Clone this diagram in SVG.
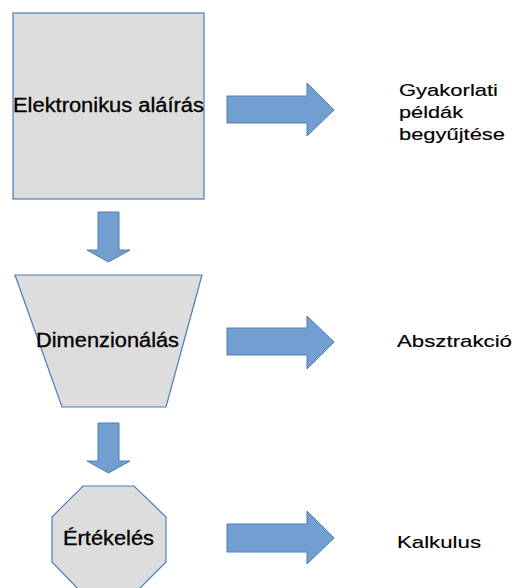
<svg xmlns="http://www.w3.org/2000/svg" width="516" height="588" viewBox="0 0 516 588">
  <style>
    .shape { fill: #dddddd; stroke: #4a7ebb; stroke-width: 1.2; }
    .arrow { fill: #729fcf; stroke: #4a7ebb; stroke-width: 1; stroke-linejoin: miter; }
    .lbl { font-family: "Liberation Sans", Arial, sans-serif; fill: #000000; }
    .node { font-size: 20px; text-anchor: middle; stroke: #000000; stroke-width: 0.3; }
    .side { font-size: 17px; stroke: #000000; stroke-width: 0.15; }
  </style>
  <rect width="516" height="588" fill="#ffffff"/>

  <g id="elektronikus-alairas">
    <rect class="shape" x="13" y="13" width="191" height="186"/>
    <text class="lbl node" x="108.5" y="112" textLength="191" lengthAdjust="spacingAndGlyphs">Elektronikus aláírás</text>
  </g>

  <g id="dimenzionalas">
    <polygon class="shape" points="15,275 202,275 166,407 62,407"/>
    <text class="lbl node" x="107.5" y="347" textLength="143" lengthAdjust="spacingAndGlyphs">Dimenzionálás</text>
  </g>

  <g id="ertekeles">
    <polygon class="shape" points="83,486 134,486 166,517 166,562 134,594 83,594 52,562 52,517"/>
    <text class="lbl node" x="108.5" y="545" textLength="91" lengthAdjust="spacingAndGlyphs">Értékelés</text>
  </g>

  <g id="gyakorlati-peldak">
    <text class="lbl side" x="399" y="96" textLength="99" lengthAdjust="spacingAndGlyphs">Gyakorlati</text>
    <text class="lbl side" x="399" y="118" textLength="64" lengthAdjust="spacingAndGlyphs">példák</text>
    <text class="lbl side" x="399" y="140" textLength="106" lengthAdjust="spacingAndGlyphs">begyűjtése</text>
  </g>

  <g id="absztrakcio">
    <text class="lbl side" x="397" y="347" textLength="115" lengthAdjust="spacingAndGlyphs">Absztrakció</text>
  </g>

  <g id="kalkulus">
    <text class="lbl side" x="397" y="548" textLength="84" lengthAdjust="spacingAndGlyphs">Kalkulus</text>
  </g>

  <g id="connectors">
    <!-- block arrows pointing right -->
    <polygon class="arrow" points="227,96 307,96 307,83 334,110 307,136 307,123 227,123"/>
    <polygon class="arrow" points="227,328 307,328 307,316 334,342 307,369 307,355 227,355"/>
    <polygon class="arrow" points="227,524 307,524 307,511 334,538 307,564 307,552 227,552"/>
    <!-- block arrows pointing down -->
    <polygon class="arrow" points="98,212 119,212 119,250 130,250 108.5,262 87,250 98,250"/>
    <polygon class="arrow" points="98,423 119,423 119,461 130,461 108.5,473 87,461 98,461"/>
  </g>
</svg>
